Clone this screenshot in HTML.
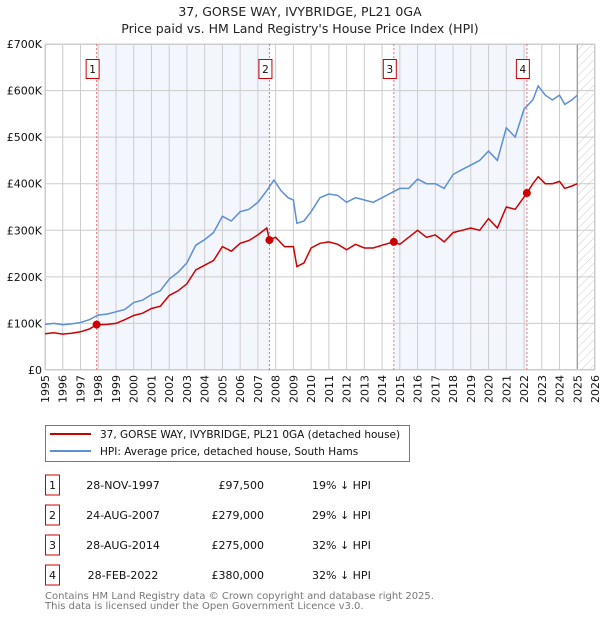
<!DOCTYPE html>
<html><head><meta charset="utf-8"><style>
body{margin:0;background:#fff;font-family:"Liberation Sans","DejaVu Sans",sans-serif;}
svg text{font-family:"DejaVu Sans","Liberation Sans",sans-serif;}
</style></head><body>
<svg id="c" width="600" height="620" xmlns="http://www.w3.org/2000/svg">
<defs><pattern id="hatch" width="6" height="6" patternUnits="userSpaceOnUse" patternTransform="rotate(45)"><line x1="0" y1="0" x2="0" y2="6" stroke="#ccc" stroke-width="1"/></pattern></defs>
<text x="300" y="16" text-anchor="middle" font-size="12.5" fill="#222">37, GORSE WAY, IVYBRIDGE, PL21 0GA</text>
<text x="300" y="33" text-anchor="middle" font-size="12.5" fill="#222">Price paid vs. HM Land Registry's House Price Index (HPI)</text>
<g id="plot"></g>
<g>
<rect x="45.5" y="425.5" width="364" height="36" fill="#fff" stroke="#777"/>
<line x1="50" y1="434" x2="91" y2="434" stroke="#cc0000" stroke-width="2"/>
<text x="100" y="438" font-size="10.5" fill="#111">37, GORSE WAY, IVYBRIDGE, PL21 0GA (detached house)</text>
<line x1="50" y1="451" x2="91" y2="451" stroke="#5b8fd6" stroke-width="2"/>
<text x="100" y="455" font-size="10.5" fill="#111">HPI: Average price, detached house, South Hams</text>
</g>
<g id="table"></g>
<text x="45" y="599" font-size="10" fill="#777">Contains HM Land Registry data © Crown copyright and database right 2025.</text>
<text x="45" y="609" font-size="10" fill="#777">This data is licensed under the Open Government Licence v3.0.</text>
</svg>
<script>
const yTicks=[0,100,200,300,400,500,600,700];
const yTickLabels=["£0","£100K","£200K","£300K","£400K","£500K","£600K","£700K"];
const xYears=[1995,1996,1997,1998,1999,2000,2001,2002,2003,2004,2005,2006,2007,2008,2009,2010,2011,2012,2013,2014,2015,2016,2017,2018,2019,2020,2021,2022,2023,2024,2025,2026];
const hpiT=[1995,1995.5,1996,1996.5,1997,1997.5,1998,1998.5,1999,1999.5,2000,2000.5,2001,2001.5,2002,2002.5,2003,2003.5,2004,2004.5,2005,2005.5,2006,2006.5,2007,2007.5,2007.9,2008.3,2008.7,2009,2009.2,2009.6,2010,2010.5,2011,2011.5,2012,2012.5,2013,2013.5,2014,2014.5,2015,2015.5,2016,2016.5,2017,2017.5,2018,2018.5,2019,2019.5,2020,2020.5,2021,2021.5,2022,2022.5,2022.8,2023.2,2023.6,2024,2024.3,2024.7,2025];
const hpiV=[98,100,97,99,102,108,118,120,125,130,145,150,162,170,195,210,230,268,280,295,330,320,340,345,360,385,408,385,370,365,315,320,340,370,378,375,360,370,365,360,370,380,390,390,410,400,400,390,420,430,440,450,470,450,520,500,560,580,610,590,580,590,570,580,590];
const priceT=[1995,1995.5,1996,1996.5,1997,1997.5,1997.9,1998.5,1999,1999.5,2000,2000.5,2001,2001.5,2002,2002.5,2003,2003.5,2004,2004.5,2005,2005.5,2006,2006.5,2007,2007.5,2007.65,2008,2008.5,2009,2009.2,2009.6,2010,2010.5,2011,2011.5,2012,2012.5,2013,2013.5,2014,2014.65,2015,2015.5,2016,2016.5,2017,2017.5,2018,2018.5,2019,2019.5,2020,2020.5,2021,2021.5,2022.16,2022.5,2022.8,2023.2,2023.6,2024,2024.3,2024.7,2025];
const priceV=[78,80,77,79,82,88,97,98,100,108,117,122,132,137,160,170,185,215,225,235,265,255,272,278,290,305,279,285,265,265,222,230,262,272,275,270,258,270,262,262,268,275,270,285,300,285,290,275,295,300,305,300,325,305,350,345,380,400,415,400,400,405,390,395,400];
const saleT=[1997.91,2007.65,2014.66,2022.16];
const saleV=[97.5,279,275,380];
const saleDates=["28-NOV-1997","24-AUG-2007","28-AUG-2014","28-FEB-2022"];
const salePrices=["£97,500","£279,000","£275,000","£380,000"];
const saleDiffs=["19% ↓ HPI","29% ↓ HPI","32% ↓ HPI","32% ↓ HPI"];
const X0=45,X1=595,Y0=370,Y1=44;
const x=t=>X0+(t-1995)/(2026-1995)*(X1-X0);
const y=v=>Y0-v/700*(Y0-Y1);
const NS="http://www.w3.org/2000/svg";
const g=document.getElementById('plot');
function mk(tag,attrs,parent){const e=document.createElementNS(NS,tag);for(const k in attrs)e.setAttribute(k,attrs[k]);(parent||g).appendChild(e);return e;}
mk('rect',{x:X0,y:Y1,width:X1-X0,height:Y0-Y1,fill:'#fff'});
let r=mk('rect',{x:x(saleT[0]),y:Y1,width:x(saleT[1])-x(saleT[0]),height:Y0-Y1,fill:'#f3f6fd'});


r=mk('rect',{x:x(saleT[2]),y:Y1,width:x(saleT[3])-x(saleT[2]),height:Y0-Y1,fill:'#f3f6fd'});


r=mk('rect',{x:x(2025.0),y:Y1,width:X1-x(2025.0),height:Y0-Y1,fill:'url(#hatch)'});


yTicks.forEach((v,i)=>{
 mk('line',{x1:X0,x2:X1,y1:y(v),y2:y(v),stroke:'#ccc','stroke-width':1});
 const t=mk('text',{x:X0-3,y:y(v)+4,'text-anchor':'end','font-size':11,fill:'#111'});t.textContent=yTickLabels[i];
 
 
});
xYears.forEach(yr=>{
 mk('line',{x1:x(yr),x2:x(yr),y1:Y1,y2:Y0,stroke:'#ccc','stroke-width':1});
 const t=mk('text',{x:0,y:0,'text-anchor':'end','font-size':11,fill:'#111',transform:`translate(${x(yr)+4},${Y0+5}) rotate(-90)`});t.textContent=yr;
 
 
});
mk('line',{x1:x(2025.0),x2:x(2025.0),y1:Y1,y2:Y0,stroke:'#888','stroke-width':1});
mk('rect',{x:X0+0.5,y:Y1+0.5,width:X1-X0-1,height:Y0-Y1-1,fill:'none',stroke:'#ccc'});
saleT.forEach((t,i)=>{
 const l=mk('line',{x1:x(t),x2:x(t),y1:Y1,y2:Y0,stroke:'#f07070','stroke-width':1,'stroke-dasharray':'2,2'});
 
 
 const bx=mk('rect',{x:x(t)-10.5,y:59.5,width:13,height:19,fill:'#fff',stroke:'#c00'});
 
 
 const tx=mk('text',{x:x(t)-4,y:73,'text-anchor':'middle','font-size':10.5,fill:'#111'});tx.textContent=i+1;
});
function path(T,V){return T.map((t,i)=>(i?'L':'M')+x(t).toFixed(1)+','+y(V[i]).toFixed(1)).join('');}
const hp=mk('path',{d:path(hpiT,hpiV),fill:'none',stroke:'#5b8fd6','stroke-width':1.5});


const pp=mk('path',{d:path(priceT,priceV),fill:'none',stroke:'#cc0000','stroke-width':1.5});


saleT.forEach((t,i)=>{
 const c=mk('circle',{cx:x(t),cy:y(saleV[i]),r:4,fill:'#cc0000'});
 
 
});
const tb=document.getElementById('table');
saleDates.forEach((d,i)=>{
 const cy=485+i*30;
 mk('rect',{x:45.5,y:cy-10,width:14,height:20,fill:'#fff',stroke:'#c00'},tb);
 let t=mk('text',{x:52.5,y:cy+4,'text-anchor':'middle','font-size':11,fill:'#111'},tb);t.textContent=i+1;
 t=mk('text',{x:123,y:cy+4,'text-anchor':'middle','font-size':11,fill:'#111'},tb);t.textContent=d;
 
 
 t=mk('text',{x:264,y:cy+4,'text-anchor':'end','font-size':11,fill:'#111'},tb);t.textContent=salePrices[i];
 
 
 t=mk('text',{x:312,y:cy+4,'font-size':11,fill:'#111'},tb);t.textContent=saleDiffs[i];
 
 
});
</script>
</body></html>
